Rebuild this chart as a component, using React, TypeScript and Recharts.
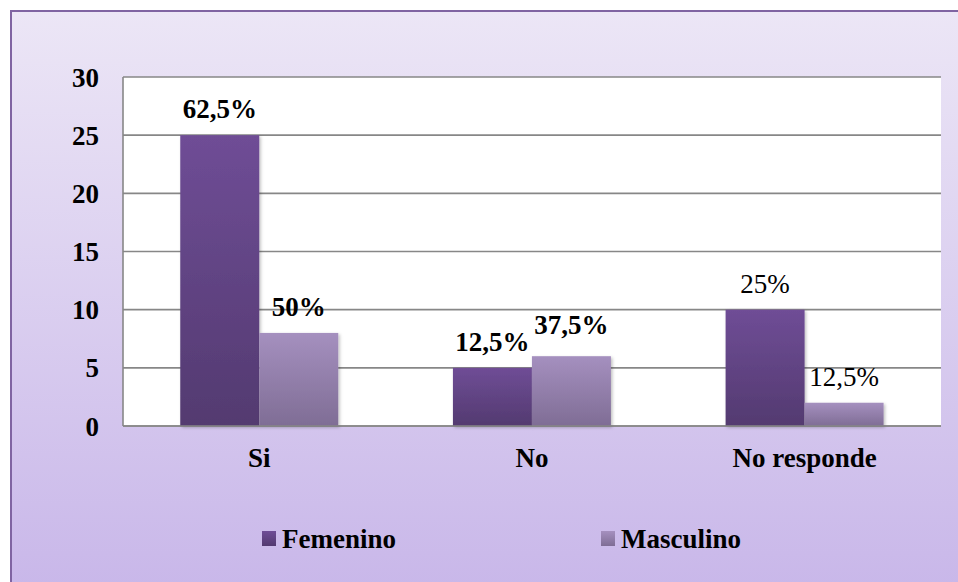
import React from 'react';
import { BarChart, Bar, XAxis, YAxis, CartesianGrid, LabelList } from 'recharts';

const categories = ['Si', 'No', 'No responde'];
const femenino = [25, 5, 10];
const masculino = [8, 6, 2];
const femeninoLabels = ['62,5%', '12,5%', '25%'];
const masculinoLabels = ['50%', '37,5%', '12,5%'];
const yTicks = [0, 5, 10, 15, 20, 25, 30];

const data = categories.map((c, i) => ({
  name: c,
  Femenino: femenino[i],
  Masculino: masculino[i],
  fLabel: femeninoLabels[i],
  mLabel: masculinoLabels[i],
}));

const FONT = '"Liberation Serif", "Times New Roman", serif';
const FS = 27;

const makeLabel = (labels: string[], lift: number[]) => (props: any) => {
  const { x, y, width, index } = props;
  const bold = index !== 2;
  return (
    <text
      x={Number(x) + Number(width) / 2}
      y={Number(y) - 17 - (lift[index] || 0)}
      textAnchor="middle"
      fontFamily={FONT}
      fontSize={FS}
      fontWeight={bold ? 'bold' : 'normal'}
      fill="#000"
    >
      {labels[index]}
    </text>
  );
};

const ShadowRect = (fill: string) => (props: any) => {
  const { x, y, width, height } = props;
  if (!height || height <= 0) return null;
  return <rect x={x} y={y} width={width} height={height} fill={fill} filter="url(#barShadow)" />;
};

export default function App() {
  return (
    <div style={{ position: 'fixed', left: 0, top: 0, width: 958, height: 582, overflow: 'hidden', background: '#fff' }}>
      <svg width={0} height={0} style={{ position: 'absolute' }}>
        <defs>
          <linearGradient id="gFem" x1="0" y1="0" x2="0" y2="1">
            <stop offset="0%" stopColor="#6f4d96" />
            <stop offset="100%" stopColor="#533a70" />
          </linearGradient>
          <linearGradient id="gMasc" x1="0" y1="0" x2="0" y2="1">
            <stop offset="0%" stopColor="#a590bf" />
            <stop offset="100%" stopColor="#7f6d95" />
          </linearGradient>
          <filter id="barShadow" x="-10%" y="-10%" width="130%" height="130%">
            <feDropShadow dx="1.5" dy="1.5" stdDeviation="1.5" floodColor="#000" floodOpacity="0.25" />
          </filter>
        </defs>
      </svg>
      <div
        style={{
          position: 'absolute',
          left: 10,
          top: 10,
          width: 960,
          height: 590,
          borderLeft: '2px solid #8064a2',
          borderTop: '2px solid #8064a2',
          background: 'linear-gradient(#ece6f6, #c8b6e9)',
        }}
      />
      <div style={{ position: 'absolute', left: 0, top: 0, width: 958, height: 582 }}>
        <BarChart
          width={958}
          height={582}
          data={data}
          margin={{ top: 77, right: 17, bottom: 96, left: 0 }}
          barCategoryGap="21%"
          barGap={0}
        >
          <CartesianGrid vertical={false} stroke="#878787" strokeWidth={1.6} fill="#ffffff" />
          <XAxis
            dataKey="name"
            height={60}
            tickSize={0}
            tickMargin={22}
            axisLine={{ stroke: '#878787', strokeWidth: 1.6 }}
            tick={{ fontFamily: FONT, fontSize: FS, fontWeight: 'bold', fill: '#000' }}
          />
          <YAxis
            width={123}
            domain={[0, 30]}
            ticks={yTicks}
            tickSize={0}
            tickMargin={24}
            axisLine={{ stroke: '#878787', strokeWidth: 1.6 }}
            tick={{ fontFamily: FONT, fontSize: FS, fontWeight: 'bold', fill: '#000' }}
          />
          <Bar dataKey="Femenino" fill="url(#gFem)" shape={ShadowRect('url(#gFem)')} isAnimationActive={false}>
            <LabelList dataKey="fLabel" content={makeLabel(femeninoLabels, [0, 0, 0])} />
          </Bar>
          <Bar dataKey="Masculino" fill="url(#gMasc)" shape={ShadowRect('url(#gMasc)')} isAnimationActive={false}>
            <LabelList dataKey="mLabel" content={makeLabel(masculinoLabels, [0, 5, 0])} />
          </Bar>
        </BarChart>
      </div>
      <div style={{ position: 'absolute', left: 0, top: 524, width: 958, height: 30, fontFamily: FONT, fontSize: FS, fontWeight: 'bold', color: '#000' }}>
        <div style={{ position: 'absolute', left: 262, top: 7, width: 14, height: 15, background: 'linear-gradient(#6f4d96, #533a70)' }} />
        <div style={{ position: 'absolute', left: 282, top: 0, lineHeight: '30px', whiteSpace: 'nowrap' }}>Femenino</div>
        <div style={{ position: 'absolute', left: 601, top: 7, width: 14, height: 15, background: 'linear-gradient(#a590bf, #7f6d95)' }} />
        <div style={{ position: 'absolute', left: 621, top: 0, lineHeight: '30px', whiteSpace: 'nowrap' }}>Masculino</div>
      </div>
    </div>
  );
}
